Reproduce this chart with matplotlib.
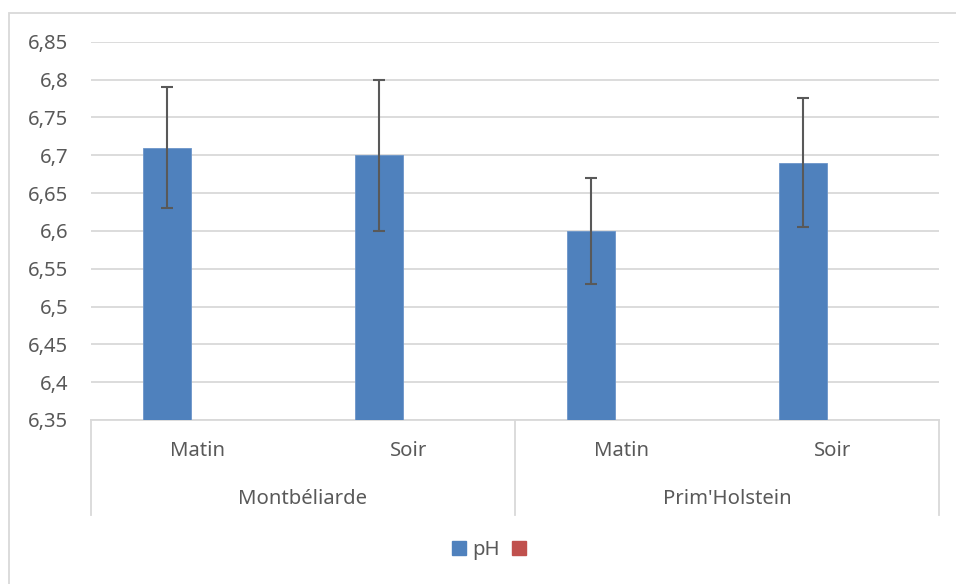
import matplotlib
matplotlib.use("Agg")
import matplotlib.pyplot as plt
from matplotlib.patches import Patch, Rectangle
import numpy as np

plt.rcParams["font.family"] = ["Noto Sans", "DejaVu Sans"]

# data
groups = ["Montbéliarde", "Prim'Holstein"]
moments = ["Matin", "Soir", "Matin", "Soir"]
ph_values = [6.71, 6.70, 6.60, 6.69]
ph_errors = [0.08, 0.10, 0.07, 0.085]
y_ticks = [6.35, 6.4, 6.45, 6.5, 6.55, 6.6, 6.65, 6.7, 6.75, 6.8, 6.85]

BLUE = "#4f81bd"
RED = "#c0504d"
GRID = "#d9d9d9"
TXT = "#595959"
FS = 14.6

W, H = 956, 584
fig = plt.figure(figsize=(W / 100, H / 100), dpi=100)
ax = fig.add_axes([91 / W, 1 - 420 / H, 848 / W, (420 - 41.7) / H])

x = np.arange(len(ph_values))
ax.bar(x - 0.1415, [v - 6.35 for v in ph_values], bottom=6.35, width=0.224,
       color=BLUE, edgecolor="#6c95c9", lw=0.6, zorder=3)
ax.errorbar(x - 0.1415, ph_values, yerr=ph_errors, fmt="none", ecolor=TXT,
            elinewidth=1.5, capsize=4.3, capthick=1.5, zorder=4)

ax.set_xlim(-0.5, 3.5)
ax.set_ylim(6.35, 6.85)
ax.set_yticks(y_ticks)
ax.set_yticklabels([f"{t:g}".replace(".", ",") for t in y_ticks])
ax.tick_params(axis="y", length=0, pad=16.5, labelsize=FS, labelcolor=TXT)
ax.set_xticks([])
ax.grid(True, axis="y", color=GRID, lw=1.3, zorder=0)
ax.set_axisbelow(True)
for s in ("top", "left", "right"):
    ax.spines[s].set_visible(False)
ax.spines["bottom"].set_color(GRID)
ax.spines["bottom"].set_linewidth(1.3)

# two-level category axis
tr = ax.get_xaxis_transform()
for xs in (-0.5, 1.5, 3.5):
    ax.plot([xs, xs], [0, -0.251], transform=tr, color=GRID, lw=1.3,
            clip_on=False)
for i, m in enumerate(moments):
    ax.text(i, -0.082, m, transform=tr, ha="center", va="center",
            fontsize=FS, color=TXT)
for j, g in enumerate(groups):
    ax.text(2 * j + 0.5, -0.21, g, transform=tr, ha="center", va="center",
            fontsize=FS, color=TXT)

# legend (second series is empty)
handles = [Patch(color=BLUE), Patch(color=RED)]
fig.legend(handles, ["pH", ""], loc="center", ncol=2, frameon=False,
           bbox_to_anchor=(492 / W, 1 - 550 / H), fontsize=FS,
           labelcolor=TXT, handlelength=0.7, handleheight=0.7,
           handletextpad=0.3, columnspacing=0.6)

# chart-area border
fig.patches.append(Rectangle((8.5 / W, -0.05), 1.2, 1.05 - 12.7 / H,
                             transform=fig.transFigure, fill=False,
                             ec=GRID, lw=1.3))

fig.savefig("out.png", dpi=100)
